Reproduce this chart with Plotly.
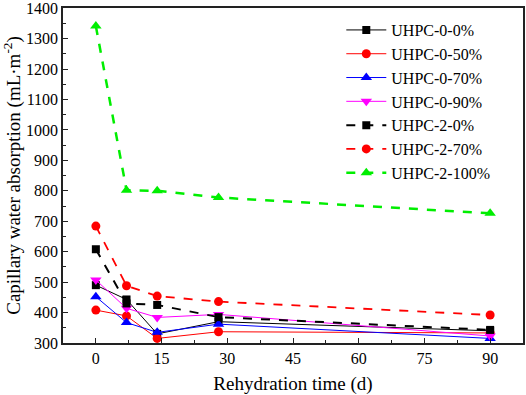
import plotly.graph_objects as go

days = [0, 7, 14, 28, 90]
uhpc_0_0 = [490, 443, 330, 370, 340]
uhpc_0_50 = [408, 389, 315, 337, 333]
uhpc_0_70 = [452, 367, 335, 362, 315]
uhpc_0_90 = [507, 414, 384, 394, 323]
uhpc_2_0 = [608, 430, 425, 385, 343]
uhpc_2_70 = [684, 488, 454, 436, 392]
uhpc_2_100 = [1341, 802, 800, 778, 726]
y_ticks = [300, 400, 500, 600, 700, 800, 900, 1000, 1100, 1200, 1300, 1400]
x_ticks = [0, 15, 30, 45, 60, 75, 90]

series = [
    ("UHPC-0-0%", uhpc_0_0, "black", "solid", 1, "square", 8),
    ("UHPC-0-50%", uhpc_0_50, "red", "solid", 1, "circle", 9),
    ("UHPC-0-70%", uhpc_0_70, "blue", "solid", 1, "triangle-up", 10),
    ("UHPC-0-90%", uhpc_0_90, "magenta", "solid", 1, "triangle-down", 10),
    ("UHPC-2-0%", uhpc_2_0, "black", "dash", 2, "square", 8),
    ("UHPC-2-70%", uhpc_2_70, "red", "dash", 1.8, "circle", 9),
    ("UHPC-2-100%", uhpc_2_100, "#00ee00", "dash", 2.5, "triangle-up", 10),
]

fig = go.Figure()
for name, vals, color, dash, width, sym, size in series:
    fig.add_trace(go.Scatter(
        x=days, y=vals, name=name, mode="lines+markers",
        line=dict(color=color, dash=dash, width=width),
        marker=dict(symbol=sym, size=size, color=color),
    ))

font_family = "Liberation Serif, Times New Roman, serif"
fig.update_layout(
    width=526, height=395,
    margin=dict(l=63, r=3, t=8, b=52),
    paper_bgcolor="white", plot_bgcolor="white",
    font=dict(family=font_family, size=16, color="black"),
    showlegend=True,
    legend=dict(x=0.605, y=0.985, xanchor="left", yanchor="top",
                bgcolor="rgba(0,0,0,0)", font=dict(size=16),
                tracegroupgap=0, itemwidth=40),
)
fig.update_xaxes(
    range=[-7.5, 97.5], tickvals=x_ticks,
    showline=True, linecolor="#222", linewidth=1.5, mirror=True,
    ticks="inside", ticklen=5, tickcolor="#222",
    minor=dict(ticks="inside", ticklen=3, dtick=7.5, tick0=0, tickcolor="#222"),
    showgrid=False, zeroline=False, automargin=False,
    title=dict(text="Rehydration time (d)"),
)
fig.update_yaxes(
    range=[300, 1400.5], tickvals=y_ticks,
    showline=True, linecolor="#222", linewidth=1.5, mirror=True,
    ticks="inside", ticklen=5, tickcolor="#222",
    minor=dict(ticks="inside", ticklen=3, dtick=50, tickcolor="#222"),
    showgrid=False, zeroline=False, automargin=False,
    ticklabeloverflow="allow",
    title=dict(text="Capillary water absorption (mL·m<sup>-2</sup>)"),
)

fig.write_html("out.html", config={"displayModeBar": False},
               post_script="document.body.style.margin='0';document.body.style.overflow='hidden';")
